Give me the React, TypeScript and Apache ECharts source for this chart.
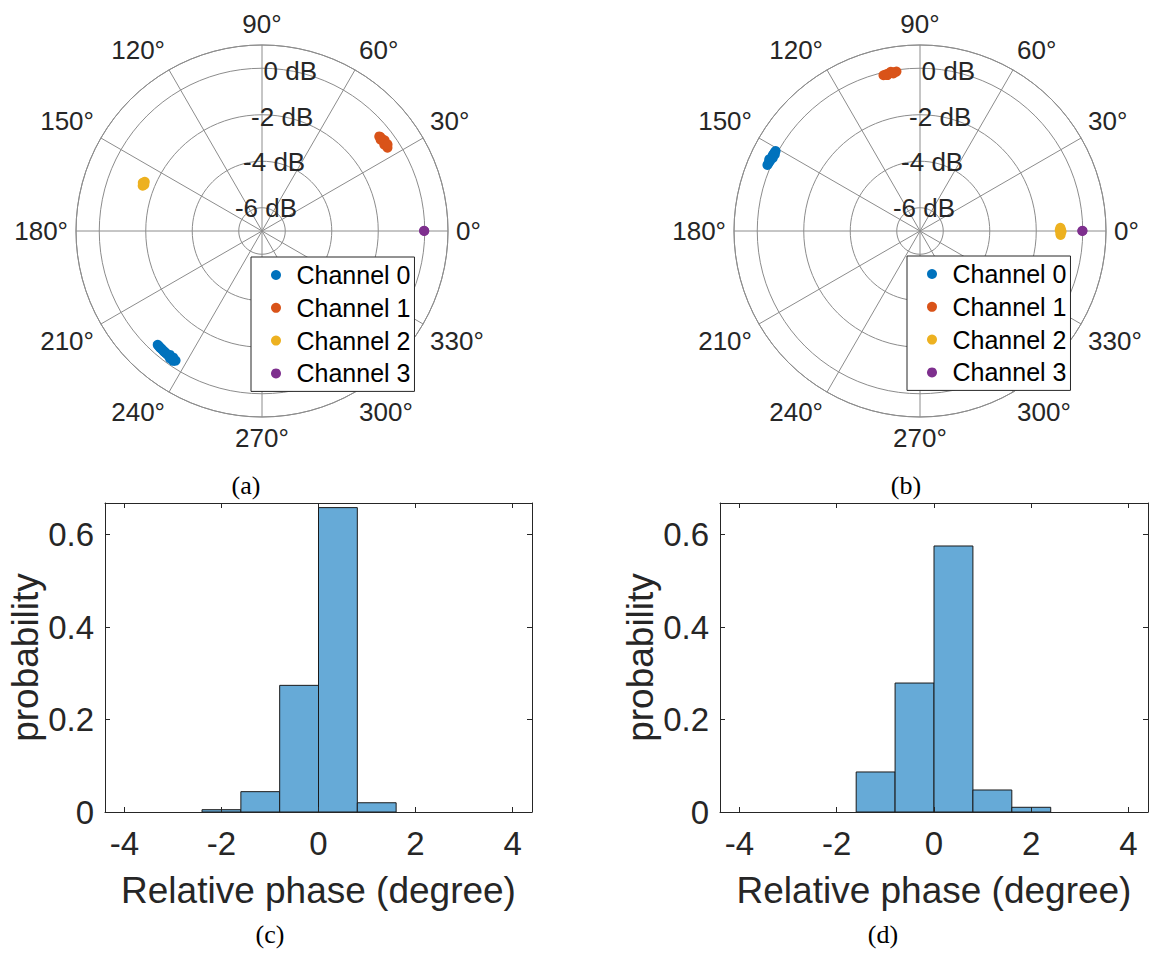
import React, { useEffect, useRef } from 'react';
import * as echarts from 'echarts';

// ---------- data ----------
const channelNames = ['Channel 0', 'Channel 1', 'Channel 2', 'Channel 3'];
const channelColors = ['#0072BD', '#D95319', '#EDB120', '#7E2F8E'];

// polar samples: [angle (deg), magnitude (dB)]
const polarA_ch0 = [[227.5, -0.36], [228.2, -0.35], [228.9, -0.34], [229.6, -0.34], [230.3, -0.33], [231.0, -0.32], [231.7, -0.32], [232.4, -0.31], [233.1, -0.30], [233.8, -0.30], [234.5, -0.29], [235.2, -0.29], [235.9, -0.28], [236.3, -0.30], [234.2, -0.24], [235.0, -0.35], [233.4, -0.36], [235.6, -0.23]];
const polarA_ch1 = [[33.6, -0.52], [34.2, -0.50], [34.8, -0.49], [35.4, -0.50], [36.0, -0.48], [36.6, -0.50], [37.2, -0.49], [37.8, -0.51], [38.4, -0.50], [38.9, -0.52], [35.2, -0.56], [36.5, -0.44], [37.6, -0.56], [34.6, -0.44]];
const polarA_ch2 = [[157.2, -1.53], [157.7, -1.52], [158.2, -1.51], [158.7, -1.52], [159.2, -1.51], [158.0, -1.47], [158.5, -1.56]];
const polarA_ch3 = [[0.0, -0.02], [0.1, -0.03]];

const polarB_ch0 = [[151.0, 0.10], [151.8, 0.11], [152.6, 0.12], [153.4, 0.12], [154.2, 0.13], [155.0, 0.12], [155.8, 0.14], [156.6, 0.15], [152.2, 0.06], [154.6, 0.18], [153.6, 0.07]];
const polarB_ch1 = [[98.4, -0.07], [99.2, -0.08], [100.0, -0.09], [100.8, -0.09], [101.6, -0.10], [102.4, -0.11], [103.2, -0.12], [100.4, -0.04], [101.8, -0.15], [99.6, -0.13]];
const polarB_ch2 = [[358.4, -0.95], [359.0, -0.96], [359.6, -0.95], [0.2, -0.94], [0.8, -0.95], [1.3, -0.96], [359.8, -0.91], [0.4, -0.99]];
const polarB_ch3 = [[0.0, -0.02], [0.1, -0.01]];

const radiusTicks = [-6, -4, -2, 0];
const radiusLabelAngle = 80;

// histogram bins: [left edge, right edge] and probabilities
const histC_left = [-2.4, -1.6, -0.8, 0.0, 0.8];
const histC_right = [-1.6, -0.8, 0.0, 0.8, 1.6];
const histC_prob = [0.005, 0.044, 0.274, 0.6585, 0.020];

const histD_left = [-1.6, -0.8, 0.0, 0.8, 1.6];
const histD_right = [-0.8, 0.0, 0.8, 1.6, 2.4];
const histD_prob = [0.0866, 0.279, 0.5755, 0.0476, 0.0102];

const captions = ['(a)', '(b)', '(c)', '(d)'];

// ---------- styling ----------
const FONT = '"Liberation Sans", Arial, Helvetica, sans-serif';
const SERIF = '"Liberation Serif", "DejaVu Serif", serif';
const TXT = '#262626';
const GRID = '#8c8c8c';
const BAR = '#66AAD7';

const polarCenters = [[262, 231], [920, 231]];
const polarRadius = 186;
const gridBoxes = [
  { left: 105, top: 503, width: 427, height: 309 },
  { left: 720, top: 503, width: 428, height: 309 },
];
const captionPos = [[246, 485], [906, 485], [270, 934], [883, 934]];
const legendPos = [[251, 257], [907, 256]];

function buildOption() {
  const polarData = [
    [polarA_ch0, polarA_ch1, polarA_ch2, polarA_ch3],
    [polarB_ch0, polarB_ch1, polarB_ch2, polarB_ch3],
  ];
  const hist = [
    { l: histC_left, r: histC_right, p: histC_prob },
    { l: histD_left, r: histD_right, p: histD_prob },
  ];

  const series: any[] = [];
  polarData.forEach((chs, pi) => {
    chs.forEach((pts, ci) => {
      series.push({
        type: 'scatter',
        name: channelNames[ci],
        coordinateSystem: 'polar',
        polarIndex: pi,
        symbol: 'circle',
        symbolSize: 10,
        itemStyle: { color: channelColors[ci], opacity: 1 },
        data: pts.map(([ang, db]) => [db, ang]),
        z: 3,
      });
    });
    series.push({
      type: 'scatter',
      name: 'rlabels' + pi,
      coordinateSystem: 'polar',
      polarIndex: pi,
      symbolSize: 1,
      silent: true,
      itemStyle: { color: 'rgba(255,255,255,0)' },
      data: radiusTicks.map((r) => [r, radiusLabelAngle]),
      label: {
        show: true,
        position: 'inside',
        formatter: (p: any) => p.value[0] + ' dB',
        fontSize: 26,
        color: TXT,
        opacity: 1,
        textBorderWidth: 0,
        textBorderColor: 'transparent',
        fontFamily: FONT,
      },
      z: 4,
    });
  });

  hist.forEach((h, gi) => {
    series.push({
      type: 'custom',
      name: 'hist' + gi,
      xAxisIndex: gi * 2,
      yAxisIndex: gi * 2,
      data: h.p.map((p, i) => [h.l[i], h.r[i], p]),
      encode: { x: [0, 1], y: 2 },
      renderItem: (params: any, api: any) => {
        const p0 = api.coord([api.value(0), api.value(2)]);
        const p1 = api.coord([api.value(1), 0]);
        return {
          type: 'rect',
          shape: { x: p0[0], y: p0[1], width: p1[0] - p0[0], height: p1[1] - p0[1] },
          style: { fill: BAR, stroke: '#1a1a1a', lineWidth: 1 },
        };
      },
      z: 2,
    });
  });

  const xAxes: any[] = [];
  const yAxes: any[] = [];
  [0, 1].forEach((gi) => {
    const common = {
      gridIndex: gi,
      type: 'value',
      splitLine: { show: false },
      axisLine: { show: true, onZero: false, lineStyle: { color: TXT, width: 1 } },
      axisTick: { show: true, inside: true, length: 5, lineStyle: { color: TXT, width: 1 } },
      z: 5,
    };
    xAxes.push({
      ...common,
      position: 'bottom',
      min: -4.4,
      max: 4.4,
      splitNumber: 4,
      axisLabel: {
        fontSize: 33,
        color: TXT,
        fontFamily: FONT,
        margin: 15,
        showMinLabel: false,
        showMaxLabel: false,
        formatter: (v: number) => (Math.abs(v - Math.round(v)) < 1e-6 ? String(Math.round(v)) : ''),
      },
      name: 'Relative phase (degree)',
      nameLocation: 'middle',
      nameGap: 60,
      nameTextStyle: { fontSize: 37, color: TXT, fontFamily: FONT },
    });
    xAxes.push({
      ...common,
      position: 'top',
      min: -4.4,
      max: 4.4,
      splitNumber: 4,
      axisLabel: { show: false },
    });
    yAxes.push({
      ...common,
      position: 'left',
      min: 0,
      max: 0.6685,
      interval: 0.2,
      axisLabel: {
        fontSize: 33,
        color: TXT,
        fontFamily: FONT,
        margin: 11,
        showMaxLabel: false,
        formatter: (v: number) =>
          Math.abs(v * 5 - Math.round(v * 5)) < 1e-6 ? (v === 0 ? '0' : v.toFixed(1)) : '',
      },
      name: 'probability',
      nameLocation: 'middle',
      nameGap: 57,
      nameTextStyle: { fontSize: 37, color: TXT, fontFamily: FONT },
    });
    yAxes.push({
      ...common,
      position: 'right',
      min: 0,
      max: 0.6685,
      interval: 0.2,
      axisLabel: { show: false },
    });
  });

  return {
    animation: false,
    backgroundColor: '#ffffff',
    textStyle: { fontFamily: FONT },
    polar: polarCenters.map((c) => ({ center: c, radius: polarRadius })),
    angleAxis: [0, 1].map((i) => ({
      polarIndex: i,
      type: 'value',
      min: 0,
      max: 360,
      interval: 30,
      startAngle: 0,
      clockwise: false,
      axisLine: { show: true, lineStyle: { color: GRID, width: 1 } },
      axisTick: { show: false },
      axisLabel: {
        show: true,
        margin: 8,
        fontSize: 26,
        color: TXT,
        fontFamily: FONT,
        formatter: (v: number) => v + '°',
      },
      splitLine: { show: true, lineStyle: { color: GRID, width: 1 } },
    })),
    radiusAxis: [0, 1].map((i) => ({
      polarIndex: i,
      type: 'value',
      min: -7,
      max: 1,
      splitNumber: 4,
      axisLine: { show: false },
      axisTick: { show: false },
      axisLabel: { show: false },
      splitLine: { show: true, lineStyle: { color: GRID, width: 1 } },
    })),
    grid: gridBoxes.map((g) => ({ ...g, containLabel: false })),
    xAxis: xAxes,
    yAxis: yAxes,
    legend: legendPos.map(([l, t]) => ({
      data: channelNames,
      left: l,
      top: t,
      orient: 'vertical',
      icon: 'circle',
      itemWidth: 31,
      itemHeight: 10,
      itemGap: 6.8,
      padding: [5, 4, 5, 20],
      backgroundColor: '#ffffff',
      borderColor: TXT,
      borderWidth: 1,
      borderRadius: 0,
      selectedMode: false,
      textStyle: { fontSize: 25, color: '#000', fontFamily: FONT, lineHeight: 26 },
      z: 10,
    })),
    graphic: captions.map((c, i) => ({
      type: 'text',
      x: captionPos[i][0],
      y: captionPos[i][1],
      style: {
        text: c,
        fontSize: 26,
        fontFamily: SERIF,
        fill: '#000',
        align: 'center',
        verticalAlign: 'middle',
      },
    })),
    series,
  };
}

export default function App() {
  const ref = useRef<HTMLDivElement>(null);
  useEffect(() => {
    if (!ref.current) return;
    const chart = echarts.init(ref.current, null, { renderer: 'svg' });
    chart.setOption(buildOption() as any);
    return () => chart.dispose();
  }, []);
  return (
    <div
      ref={ref}
      style={{ position: 'absolute', left: 0, top: 0, width: 1154, height: 956, background: '#fff' }}
    />
  );
}
